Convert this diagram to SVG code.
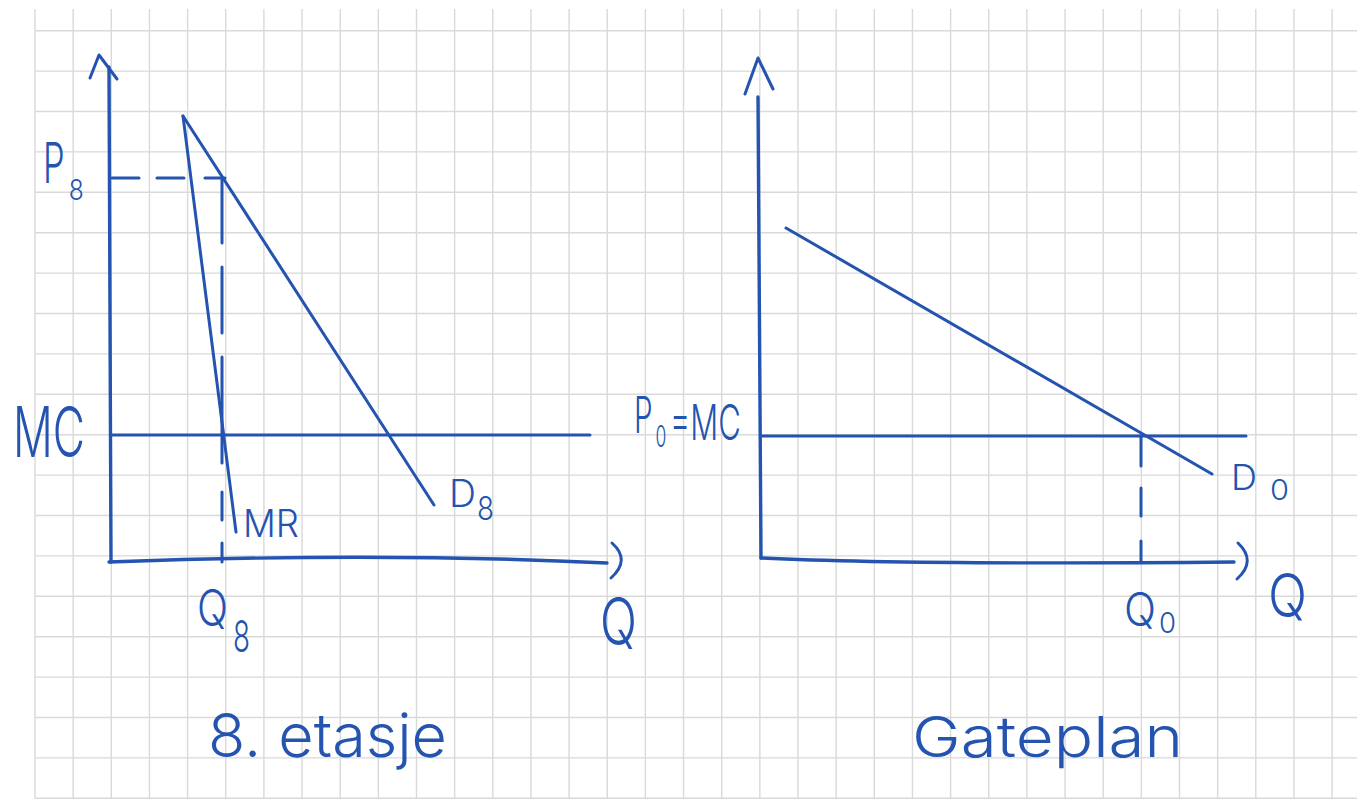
<svg xmlns="http://www.w3.org/2000/svg" width="1357" height="799" viewBox="0 0 1357 799">
  <style>
    .grid { stroke: #d9d9d9; stroke-width: 1.4; fill: none; }
    .ink { stroke: #2453b0; stroke-width: 3; fill: none; stroke-linecap: round; stroke-linejoin: round; }
    .axis { stroke-width: 3.4; }
    .t { font-family: "Inter", "Liberation Sans", sans-serif; font-weight: 300; fill: #2453b0; }
  </style>
  <rect x="0" y="0" width="1357" height="799" fill="#ffffff"/>
  <g id="grid">
    <path class="grid" d="M35,9V799 M73.15,9V799 M111.3,9V799 M149.45,9V799 M187.6,9V799 M225.75,9V799 M263.9,9V799 M302.05,9V799 M340.2,9V799 M378.35,9V799 M416.5,9V799 M454.65,9V799 M492.8,9V799 M530.95,9V799 M569.1,9V799 M607.25,9V799 M645.4,9V799 M683.55,9V799 M721.7,9V799 M759.85,9V799 M798,9V799 M836.15,9V799 M874.3,9V799 M912.45,9V799 M950.6,9V799 M988.75,9V799 M1026.9,9V799 M1065.05,9V799 M1103.2,9V799 M1141.35,9V799 M1179.5,9V799 M1217.65,9V799 M1255.8,9V799 M1293.95,9V799 M1332.1,9V799"/>
    <path class="grid" d="M35,30.7H1357 M35,71.1H1357 M35,111.5H1357 M35,151.9H1357 M35,192.3H1357 M35,232.7H1357 M35,273.1H1357 M35,313.5H1357 M35,353.9H1357 M35,394.3H1357 M35,434.7H1357 M35,475.1H1357 M35,515.5H1357 M35,555.9H1357 M35,596.3H1357 M35,636.7H1357 M35,677.1H1357 M35,717.5H1357 M35,757.9H1357 M35,798.3H1357"/>
  </g>

  <g id="left-axes">
    <path class="ink axis" d="M109,67 L111,562"/>
    <path class="ink" d="M90,78 L99,55 L117,79"/>
    <path class="ink axis" d="M109,562 Q380,552 607,563"/>
    <path class="ink" d="M612,543 Q631,560 611,578"/>
  </g>
  <g id="connectors">
    <path id="mc-left" class="ink" d="M112,435 L590,435"/>
    <path id="d8" class="ink" d="M183,116 L434,505"/>
    <path id="mr" class="ink" d="M183,116 L236,532"/>
    <path id="p8-dash" class="ink" d="M112,178 L139,178 M157,178 L184,178 M205,178 L225,178"/>
    <path id="q8-dash" class="ink" d="M222,178 L222,243 M222,267 L222,333 M222,357 L222,463 M222,492 L222,520 M222,543 L222,562"/>
    <path id="mc-right" class="ink" d="M761,436 L1246,436"/>
    <path id="d0" class="ink" d="M786,228 L1212,474"/>
    <path id="q0-dash" class="ink" d="M1141,436 L1141,466 M1141,488 L1141,516 M1141,541 L1141,562"/>
  </g>
  <g id="right-axes">
    <path class="ink axis" d="M758,97 L761,558"/>
    <path class="ink" d="M745,94 L758,58 L773,89"/>
    <path class="ink axis" d="M761,558 Q900,565 1234,562"/>
    <path class="ink" d="M1238,543 Q1257,561 1237,579"/>
  </g>

  <g id="label-p8"><text class="t" transform="translate(43,0) scale(0.6,1)"><tspan x="0" y="183" font-size="56" textLength="36" lengthAdjust="spacingAndGlyphs">P</tspan><tspan x="43" y="200" font-size="28" textLength="25" lengthAdjust="spacingAndGlyphs">8</tspan></text></g>
  <g id="label-mc-left"><text class="t" x="13" y="457" font-size="70" textLength="72" lengthAdjust="spacingAndGlyphs">MC</text></g>
  <g id="label-mr"><text class="t" x="243" y="537" font-size="38" textLength="56" lengthAdjust="spacingAndGlyphs">MR</text></g>
  <g id="label-d8"><text class="t"><tspan x="449" y="507" font-size="38" textLength="27" lengthAdjust="spacingAndGlyphs">D</tspan><tspan x="477" y="520" font-size="32" textLength="17" lengthAdjust="spacingAndGlyphs">8</tspan></text></g>
  <g id="label-q8"><text class="t"><tspan x="197" y="626" font-size="50" textLength="31" lengthAdjust="spacingAndGlyphs">Q</tspan><tspan x="233" y="652" font-size="44" textLength="17" lengthAdjust="spacingAndGlyphs">8</tspan></text></g>
  <g id="label-q-left"><text class="t" x="600" y="645" font-size="66" textLength="37" lengthAdjust="spacingAndGlyphs">Q</text></g>
  <g id="title-left"><text class="t" x="208" y="757" font-size="61" textLength="239" lengthAdjust="spacingAndGlyphs">8. etasje</text></g>

  <g id="label-p0mc"><text class="t" transform="translate(634,0) scale(0.6,1)"><tspan x="0" y="433" font-size="50" textLength="31" lengthAdjust="spacingAndGlyphs">P</tspan><tspan x="36" y="447" font-size="30" textLength="18" lengthAdjust="spacingAndGlyphs">0</tspan><tspan x="60" y="440" font-size="49" textLength="118" lengthAdjust="spacingAndGlyphs">=MC</tspan></text></g>
  <g id="label-d0"><text class="t"><tspan x="1231" y="490" font-size="35" textLength="26" lengthAdjust="spacingAndGlyphs">D</tspan><tspan x="1270" y="500" font-size="28" textLength="19" lengthAdjust="spacingAndGlyphs">0</tspan></text></g>
  <g id="label-q0"><text class="t"><tspan x="1124" y="626" font-size="46" textLength="32" lengthAdjust="spacingAndGlyphs">Q</tspan><tspan x="1159" y="633" font-size="28" textLength="17" lengthAdjust="spacingAndGlyphs">0</tspan></text></g>
  <g id="label-q-right"><text class="t" x="1268" y="617" font-size="60" textLength="39" lengthAdjust="spacingAndGlyphs">Q</text></g>
  <g id="title-right"><text class="t" x="912" y="757" font-size="56" textLength="271" lengthAdjust="spacingAndGlyphs">Gateplan</text></g>
</svg>
